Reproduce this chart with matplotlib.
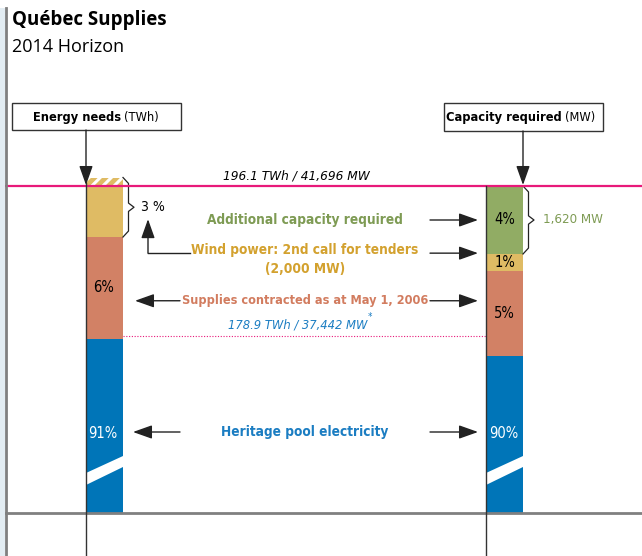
import matplotlib
matplotlib.use('Agg')
import matplotlib.pyplot as plt
from matplotlib.patches import Rectangle, Polygon

# shares of the 2014 needs, bottom -> top of each bar
segments = ['Heritage pool electricity',
            'Supplies contracted as at May 1, 2006',
            'Wind power: 2nd call for tenders',
            'Additional capacity required']
energy_pct = [91, 6, 3, 0]        # Energy needs (TWh)
capacity_pct = [90, 5, 1, 4]      # Capacity required (MW)
energy_hatch = 0.5                # hatched cap on top of the energy bar
heritage_line = 91.2              # 178.9 TWh / 37,442 MW
total_text = '196.1 TWh / 41,696 MW'
heritage_text = '178.9 TWh / 37,442 MW'
extra_mw_text = '1,620 MW'
wind_sub = '(2,000 MW)'

seg_colors = ['#0075B8', '#D28165', '#DFBB64', '#91AC64']
txt_colors = ['#1B7DC2', '#D27C5F', '#D3A12E', '#7E9B54']
MAGENTA = '#E8197A'
GREY = '#808080'

plt.rcParams['font.family'] = ['DejaVu Sans']
plt.rcParams['font.stretch'] = 'condensed'
plt.rcParams['hatch.linewidth'] = 2.2

W, H = 642, 556
top_px, bot_px, px_pct = 186, 513, 17.0
left_x, right_x, bar_w = 104.5, 504.5, 37
ROW_FS = 9.8

fig = plt.figure(figsize=(W / 100, H / 100), dpi=100)

# bar axes: x in pixels, y in percent of the 2014 needs (cut below)
ax = fig.add_axes([0, (H - bot_px) / H, 1, (bot_px - 160) / H])
ax.set_xlim(0, W)
ax.set_ylim(100 - (bot_px - top_px) / px_pct, 100 + (top_px - 160) / px_pct)
ax.axis('off')

# overlay for the frame, titles and boxes, in pixels
ov = fig.add_axes([0, 0, 1, 1], zorder=5)
ov.set_xlim(0, W)
ov.set_ylim(H, 0)
ov.axis('off')
ov.patch.set_visible(False)


def stack(x, vals):
    b = 0
    centers = []
    for v, c in zip(vals, seg_colors):
        if v > 0:
            ax.bar(x, v, bottom=b, width=bar_w, color=c, linewidth=0)
        centers.append(b + v / 2)
        b += v
    return centers


lc = stack(left_x, energy_pct)
rc = stack(right_x, capacity_pct)
ax.bar(left_x, energy_hatch, bottom=100, width=bar_w, color=seg_colors[2],
       hatch='///', edgecolor='white', linewidth=0)

# total and heritage lines
ax.plot([5, W], [100, 100], color=MAGENTA, lw=1.6, zorder=4)
ax.plot([left_x + bar_w / 2, right_x - bar_w / 2], [heritage_line] * 2,
        color=MAGENTA, lw=0.8, ls=(0, (1, 1.5)))
ax.text(298, heritage_line + 0.25, heritage_text, color=txt_colors[0],
        style='italic', fontsize=9.3, ha='center', va='bottom')
ax.text(368, heritage_line + 0.8, '*', color=txt_colors[0], fontsize=7,
        ha='left', va='bottom')
ax.text(296, 100.2, total_text, color='black', style='italic',
        fontsize=9.7, ha='center', va='bottom')

arrow = dict(arrowstyle='-|>,head_length=0.9,head_width=0.32',
             color='#222222', lw=1, mutation_scale=13, shrinkA=0, shrinkB=0)

# percentage labels inside the bars
ax.text(left_x - 1, lc[1], f'{energy_pct[1]}%', fontsize=10.5,
        ha='center', va='center')
for i in (1, 2, 3):
    ax.text(right_x, rc[i], f'{capacity_pct[i]}%', fontsize=10.5,
            ha='center', va='center')

# row labels
ax.text(305, rc[3], segments[3], color=txt_colors[3], fontsize=ROW_FS,
        fontweight='bold', ha='center', va='center')
ax.annotate('', xy=(478, rc[3]), xytext=(430, rc[3]), arrowprops=arrow)

wind_y = rc[2]
ax.text(305, wind_y + 0.3, segments[2], color=txt_colors[2], fontsize=ROW_FS,
        fontweight='bold', ha='center', va='bottom')
ax.text(305, wind_y + 0.05, wind_sub, color=txt_colors[2], fontsize=ROW_FS,
        fontweight='bold', ha='center', va='top')
ax.annotate('', xy=(478, wind_y + 0.55), xytext=(430, wind_y + 0.55),
            arrowprops=arrow)

sup_y = (lc[1] + rc[1]) / 2
ax.text(305, sup_y, segments[1], color=txt_colors[1], fontsize=9.1,
        fontweight='bold', ha='center', va='center')
ax.annotate('', xy=(135, sup_y), xytext=(180, sup_y), arrowprops=arrow)
ax.annotate('', xy=(478, sup_y), xytext=(430, sup_y), arrowprops=arrow)


def brace(x0, y_top, y_bot, w=11):
    ym = (y_top + y_bot) / 2
    d = 0.35
    xs = [x0, x0 + w * 0.5, x0 + w * 0.5, x0 + w, x0 + w * 0.5, x0 + w * 0.5, x0]
    ys = [y_top, y_top - d, ym + d * 0.7, ym, ym - d * 0.7, y_bot + d, y_bot]
    ax.plot(xs, ys, color='#222222', lw=0.9, clip_on=False)
    return ym


bm = brace(left_x + bar_w / 2, 100 + energy_hatch, 100 - energy_pct[2])
ax.text(141, bm, f'{energy_pct[2]} %', fontsize=10, ha='left', va='center')
# L-shaped pointer from the wind row up to the 3 %
ax.plot([190, 148], [wind_y + 0.55] * 2, color='#222222', lw=1)
ax.annotate('', xy=(148, bm - 0.7), xytext=(148, wind_y + 0.55),
            arrowprops=arrow)

bm2 = brace(right_x + bar_w / 2, 100, 100 - capacity_pct[3])
ax.text(543, bm2, extra_mw_text, color=txt_colors[3], fontsize=9.5,
        ha='left', va='center')

# ---- overlay: frame, title, header boxes, cut marks ----
ov.add_patch(Rectangle((0, 8), 5, H - 8, color='#E3EDF3', lw=0))
ov.plot([5.5, 5.5], [8, H], color=GREY, lw=2)
ov.plot([6, W], [bot_px, bot_px], color=GREY, lw=2)
ov.plot([86, 86], [183, H], color='#333333', lw=1)
ov.plot([486, 486], [top_px, H], color='#333333', lw=1)

for xl in (86, 486):
    ov.add_patch(Polygon([(xl, 473), (xl + bar_w, 456), (xl + bar_w, 467),
                          (xl, 485)], closed=True, color='white', lw=0))

ov.text(12, 20, 'Québec Supplies', fontsize=13.5, fontweight='bold',
        family=['Open Sans', 'DejaVu Sans'], stretch='normal', va='center')
ov.text(12, 47, '2014 Horizon', fontsize=13, family=['Open Sans', 'DejaVu Sans'],
        stretch='normal', va='center')

ov.add_patch(Rectangle((12, 103), 169, 27, fill=False, ec='#333333', lw=1))
ov.text(121, 117, 'Energy needs', fontsize=9.2, fontweight='bold',
        ha='right', va='center')
ov.text(124, 117, '(TWh)', fontsize=9.2, ha='left', va='center')
ov.annotate('', xy=(86, top_px - 1), xytext=(86, 130), arrowprops=arrow)

ov.add_patch(Rectangle((444, 103), 159, 28, fill=False, ec='#333333', lw=1))
ov.text(562, 117, 'Capacity required', fontsize=9.2, fontweight='bold',
        ha='right', va='center')
ov.text(565, 117, '(MW)', fontsize=9.2, ha='left', va='center')
ov.annotate('', xy=(523, top_px - 1), xytext=(523, 131), arrowprops=arrow)

# heritage row (inside the cut part of the bars)
ov.text(305, 432, segments[0], color=txt_colors[0], fontsize=ROW_FS,
        fontweight='bold', ha='center', va='center')
ov.annotate('', xy=(133, 432), xytext=(180, 432), arrowprops=arrow)
ov.annotate('', xy=(478, 432), xytext=(430, 432), arrowprops=arrow)
ov.text(103, 434, f'{energy_pct[0]}%', color='white', fontsize=10.5,
        ha='center', va='center')
ov.text(504, 434, f'{capacity_pct[0]}%', color='white', fontsize=10.5,
        ha='center', va='center')

fig.savefig('out.png', dpi=100)
